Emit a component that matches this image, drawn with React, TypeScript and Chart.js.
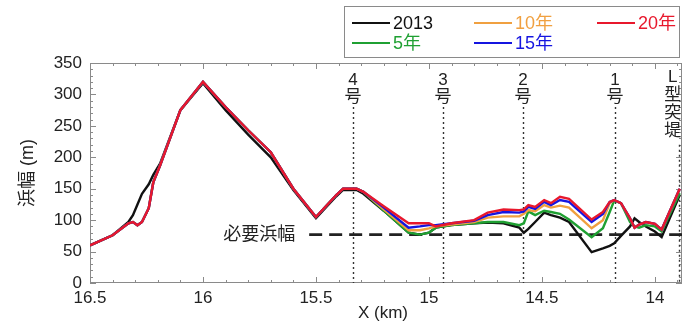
import React, { useEffect, useRef } from "react";
import { Chart, registerables } from "chart.js";

Chart.register(...registerables);

// ---- data ----
const xKm = [16.5, 16.4, 16.33, 16.31, 16.29, 16.27, 16.24, 16.22, 16.19, 16.1, 16.0, 15.9, 15.8, 15.7, 15.6, 15.5, 15.41, 15.38, 15.32, 15.29, 15.2, 15.09, 15.04, 15.0, 14.97, 14.9, 14.8, 14.74, 14.67, 14.6, 14.58, 14.56, 14.53, 14.49, 14.46, 14.42, 14.38, 14.28, 14.23, 14.2, 14.18, 14.15, 14.11, 14.09, 14.07, 14.04, 14.0, 13.97, 13.89];

const w2013 = [60, 76, 97, 108, 125, 142, 157, 172, 190, 275, 318, 275, 236, 200, 148, 103, 138, 148, 148, 142, 115, 80, 77, 80, 88, 92, 95, 96, 95, 88, 80, 86, 97, 112, 108, 104, 97, 49, 55, 59, 63, 75, 90, 103, 97, 90, 82, 73, 140];
const w5y = [60, 76, 95, 97, 92, 97, 119, 160, 187, 275, 320, 280, 243, 208, 150, 105, 140, 150, 150, 145, 115, 80, 77, 80, 88, 92, 95, 97, 97, 92, 95, 114, 108, 115, 113, 110, 101, 73, 87, 113, 131, 127, 97, 90, 88, 92, 90, 82, 143];
const w10y = [60, 76, 95, 97, 92, 97, 119, 160, 187, 275, 320, 280, 243, 208, 150, 105, 140, 150, 150, 145, 117, 84, 84, 87, 90, 93, 97, 104, 106, 106, 110, 116, 114, 124, 120, 123, 120, 87, 100, 127, 132, 127, 103, 88, 93, 97, 94, 85, 150];
const w15y = [60, 76, 95, 97, 92, 97, 119, 160, 187, 275, 320, 280, 243, 208, 150, 105, 140, 150, 150, 145, 120, 88, 90, 92, 92, 95, 99, 108, 113, 112, 114, 121, 118, 129, 124, 132, 129, 97, 110, 129, 132, 127, 103, 88, 93, 97, 94, 85, 150];
const w20y = [60, 76, 95, 97, 92, 97, 119, 160, 187, 275, 320, 280, 243, 208, 150, 105, 140, 150, 150, 145, 122, 95, 95, 95, 90, 95, 100, 112, 117, 116, 117, 124, 121, 132, 127, 137, 134, 101, 113, 129, 132, 127, 103, 88, 93, 97, 94, 85, 150];

const seriesLabels = ["2013", "5年", "10年", "15年", "20年"];
const seriesColors = ["#111111", "#1fa032", "#f0a040", "#1515e0", "#e8182c"];
const seriesValues = [w2013, w5y, w10y, w15y, w20y];
const seriesOrder = [4, 3, 2, 1, 0];

const groinKm = [15.336, 14.938, 14.584, 14.177, 13.894];
const groinText = [["4", "号"], ["3", "号"], ["2", "号"], ["1", "号"], ["L", "型", "突", "堤"]];
const groinTopM = [280, 280, 280, 280, 220];

const requiredWidth = 77;
const requiredFromKm = 15.53;
const requiredLabel = "必要浜幅";

const xTicks = [16.5, 16, 15.5, 15, 14.5, 14];
const xMin = 13.88;
const xMax = 16.5;
const yMin = 0;
const yMax = 350;

const FONT = "'Liberation Sans', Arial, 'Noto Sans CJK JP', sans-serif";

export default function App() {
  const ref = useRef<HTMLCanvasElement>(null);

  useEffect(() => {
    document.body.style.margin = "0";
    const canvas = ref.current!;

    const overlay = {
      id: "overlay",
      beforeDatasetsDraw(chart: any) {
        const { ctx, chartArea: a, scales } = chart;
        const xs = scales.x;
        const ys = scales.y;
        ctx.save();
        // frame
        ctx.strokeStyle = "#8a8a8a";
        ctx.lineWidth = 1;
        ctx.setLineDash([]);
        ctx.strokeRect(a.left + 0.5, a.top + 0.5, a.right - a.left - 1, a.bottom - a.top - 1);
        // inward ticks
        ctx.beginPath();
        for (let k = 139; k <= 165; k++) {
          const v = k / 10;
          const px = Math.round(xs.getPixelForValue(v)) + 0.5;
          if (px < a.left || px > a.right) continue;
          const len = k % 5 === 0 ? 6 : 3;
          ctx.moveTo(px, a.bottom);
          ctx.lineTo(px, a.bottom - len);
          ctx.moveTo(px, a.top);
          ctx.lineTo(px, a.top + len);
        }
        for (let v = yMin; v <= yMax; v += 10) {
          const py = Math.round(ys.getPixelForValue(v)) + 0.5;
          const len = v % 50 === 0 ? 6 : 3;
          ctx.moveTo(a.left, py);
          ctx.lineTo(a.left + len, py);
          ctx.moveTo(a.right, py);
          ctx.lineTo(a.right - len, py);
        }
        ctx.stroke();
        // groin dotted lines
        ctx.strokeStyle = "#333";
        ctx.lineWidth = 1.4;
        ctx.setLineDash([2, 3]);
        groinKm.forEach((g, i) => {
          const px = Math.round(xs.getPixelForValue(g)) + 0.5;
          ctx.beginPath();
          ctx.moveTo(px, ys.getPixelForValue(groinTopM[i]));
          ctx.lineTo(px, a.bottom);
          ctx.stroke();
        });
        // required width dashed line
        ctx.strokeStyle = "#222";
        ctx.lineWidth = 2.6;
        ctx.setLineDash([13, 7]);
        const ry = ys.getPixelForValue(requiredWidth);
        ctx.beginPath();
        ctx.moveTo(xs.getPixelForValue(requiredFromKm), ry);
        ctx.lineTo(xs.getPixelForValue(xMin), ry);
        ctx.stroke();
        ctx.restore();
      },
      afterDraw(chart: any) {
        const { ctx, chartArea: a, scales } = chart;
        const xs = scales.x;
        const ys = scales.y;
        ctx.save();
        ctx.fillStyle = "#222";
        ctx.textBaseline = "middle";
        ctx.textAlign = "center";
        // groin labels
        ctx.font = `17px ${FONT}`;
        groinText.forEach((lines, i) => {
          const px = xs.getPixelForValue(groinKm[i]);
          if (lines.length > 2) {
            const ys0 = [77, 95, 113, 131];
            lines.forEach((t, j) => ctx.fillText(t, px - 6, ys0[j]));
          } else {
            ctx.fillText(lines[0], px, 80);
            ctx.fillText(lines[1], px, 97);
          }
        });
        // required width label
        ctx.font = `18px ${FONT}`;
        ctx.textAlign = "right";
        ctx.fillText(requiredLabel, xs.getPixelForValue(requiredFromKm) - 14, ys.getPixelForValue(requiredWidth));
        // axis titles
        ctx.textAlign = "center";
        ctx.font = `17px ${FONT}`;
        ctx.fillText("X (km)", (a.left + a.right) / 2 - 3, 313);
        ctx.save();
        ctx.translate(28, (a.top + a.bottom) / 2);
        ctx.rotate(-Math.PI / 2);
        ctx.font = `18px ${FONT}`;
        ctx.fillText("浜幅 (m)", 0, 0);
        ctx.restore();
        // legend
        ctx.strokeStyle = "#8a8a8a";
        ctx.lineWidth = 1;
        ctx.setLineDash([]);
        ctx.fillStyle = "#fff";
        ctx.fillRect(344, 6, 335, 51);
        ctx.strokeRect(344.5, 6.5, 335, 51);
        const colX = [352, 474, 597];
        const rowY = [23, 43];
        const legendOrder = [0, 2, 4, 1, 3];
        ctx.font = `18px ${FONT}`;
        ctx.textAlign = "left";
        legendOrder.forEach((si, k) => {
          const cx = colX[k % 3];
          const cy = rowY[Math.floor(k / 3)];
          ctx.strokeStyle = seriesColors[si];
          ctx.lineWidth = 2;
          ctx.beginPath();
          ctx.moveTo(cx, cy);
          ctx.lineTo(cx + 38, cy);
          ctx.stroke();
          ctx.fillStyle = seriesColors[si];
          ctx.fillText(seriesLabels[si], cx + 41, cy + 1);
        });
        ctx.restore();
      },
    };

    const chart = new Chart(canvas, {
      type: "line",
      data: {
        datasets: seriesLabels.map((label, i) => ({
          label,
          data: xKm.map((x, j) => ({ x, y: seriesValues[i][j] })),
          borderColor: seriesColors[i],
          backgroundColor: seriesColors[i],
          borderWidth: 2.4,
          pointRadius: 0,
          tension: 0,
          fill: false,
          order: seriesOrder[i],
        })),
      },
      options: {
        animation: false,
        responsive: false,
        layout: { padding: { top: 63, right: 1, left: 0, bottom: 0 } },
        plugins: { legend: { display: false }, tooltip: { enabled: false } },
        scales: {
          x: {
            type: "linear",
            reverse: true,
            min: xMin,
            max: xMax,
            afterBuildTicks: (s: any) => {
              s.ticks = xTicks.map((v) => ({ value: v }));
            },
            afterFit: (s: any) => {
              s.height = 41;
            },
            ticks: {
              callback: (v: any) => String(v),
              font: { family: FONT, size: 17 },
              color: "#222",
              padding: 5,
              maxRotation: 0,
              autoSkip: false,
            },
            grid: { display: false, drawTicks: false },
            border: { display: false },
          },
          y: {
            min: yMin,
            max: yMax,
            afterFit: (s: any) => {
              s.width = 90;
            },
            ticks: {
              stepSize: 50,
              font: { family: FONT, size: 17 },
              color: "#222",
              padding: 8,
            },
            grid: { display: false, drawTicks: false },
            border: { display: false },
          },
        },
      },
      plugins: [overlay],
    });
    return () => chart.destroy();
  }, []);

  return <canvas ref={ref} width={683} height={324} style={{ display: "block" }} />;
}
